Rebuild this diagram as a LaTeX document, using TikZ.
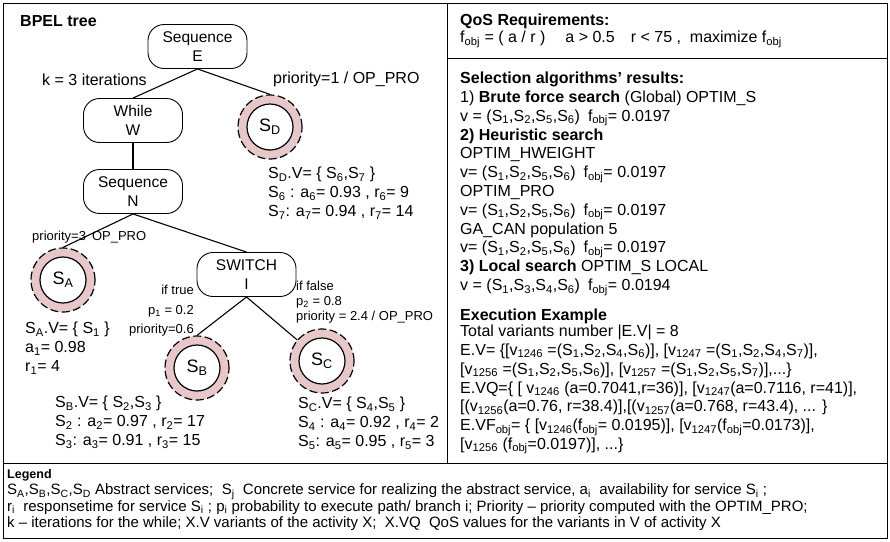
\documentclass[tikz,border=0pt]{standalone}
\usepackage{fontspec}
\setmainfont{Liberation Sans}
\usetikzlibrary{positioning}
\definecolor{ringpink}{RGB}{231,199,199}
\newcommand{\sbs}[1]{\textsubscript{#1}}

\begin{document}
\begin{tikzpicture}[x=1pt,y=-1pt,
  txt/.style={inner sep=0pt,align=left,font=\fontsize{16}{19}\selectfont},
  note/.style={inner sep=0pt,font=\fontsize{13}{19.5}\selectfont},
  activity/.style={draw,line width=0.9pt,rounded corners=16pt,minimum width=99pt,minimum height=44pt,inner sep=0pt,align=center,font=\fontsize{15.5}{19}\selectfont},
  service/.style={circle,draw,line width=1.2pt,dash pattern=on 8pt off 3.5pt,fill=ringpink,minimum size=64pt,inner sep=0pt,font=\fontsize{18}{18}\selectfont,
    path picture={\draw[solid,line width=1.2pt,fill=white] (path picture bounding box.center) circle (23pt);}},
  link/.style={line width=1.1pt}]

\useasboundingbox (0,0) rectangle (890,541);
% frames
\draw[line width=0.9pt] (3,3) rectangle (887,538);
\draw[line width=0.9pt] (447,3) -- (447,463) (3,463) -- (887,463) (447,58) -- (887,58);

% BPEL tree
\node[anchor=west,inner sep=0pt,font=\bfseries\fontsize{16}{16}\selectfont] (bpel) at (20,21) {BPEL tree};
\node[activity] (E) at (197.5,46.5) {Sequence\\E};
\node[activity] (W) at (133,120.5) {While\\W};
\node[service] (SD) at (270,127) {S\sbs{D}};
\node[activity] (N) at (133,191.5) {Sequence\\N};
\node[service] (SA) at (63,280) {S\sbs{A}};
\node[activity] (I) at (246.5,274.5) {SWITCH\\I};
\node[service] (SB) at (197,368) {S\sbs{B}};
\node[service] (SC) at (322,361) {S\sbs{C}};

\path[link] (E.south) edge (W.north) edge (SD.north)
            (W.south) edge (N.north)
            (N.south) edge (SA.north) edge (I.north)
            (I.south) edge (SB.north) edge (SC);

\node[txt,anchor=west] (iter) at (42,80) {k = 3 iterations};
\node[txt,anchor=west] (prioD) at (273,79) {priority=1 / OP\_PRO};
\node[txt,anchor=north west] (varD) at (268,167) {S\sbs{D}.V= \{ S\sbs{6},S\sbs{7} \}\\
  S\sbs{6} : a\sbs{6}= 0.93 , r\sbs{6}= 9\\
  S\sbs{7}: a\sbs{7}= 0.94 , r\sbs{7}= 14};
\node[note,anchor=west] (prioA) at (32,237) {priority=3\hspace{6pt}OP\_PRO};
\node[note,anchor=north east,align=right] (condT) at (194,285) {if true\\p\sbs{1} = 0.2\\priority=0.6};
\node[note,anchor=north west,align=left,font=\fontsize{13}{15}\selectfont] (condF) at (296,281) {if false\\p\sbs{2} = 0.8\\priority = 2.4 / OP\_PRO};
\node[txt,anchor=north west] (varA) at (25,322) {S\sbs{A}.V= \{ S\sbs{1} \}\\a\sbs{1}= 0.98\\r\sbs{1}= 4};
\node[txt,anchor=north west] (varB) at (55,396) {S\sbs{B}.V= \{ S\sbs{2},S\sbs{3} \}\\
  S\sbs{2} : a\sbs{2}= 0.97 , r\sbs{2}= 17\\
  S\sbs{3}: a\sbs{3}= 0.91 , r\sbs{3}= 15};
\node[txt,anchor=north west] (varC) at (298,397) {S\sbs{C}.V= \{ S\sbs{4},S\sbs{5} \}\\
  S\sbs{4} : a\sbs{4}= 0.92 , r\sbs{4}= 2\\
  S\sbs{5}: a\sbs{5}= 0.95 , r\sbs{5}= 3};

% QoS panel
\node[txt,anchor=north west,font=\fontsize{16}{17}\selectfont] (qos) at (460,14) {\textbf{QoS Requirements:}\\
  f\sbs{obj} = ( a / r )\hspace{20pt}a > 0.5\hspace{16pt}r < 75 ,\ \ maximize f\sbs{obj}};
\node[txt,anchor=north west,font=\fontsize{16}{18.8}\selectfont] (algo) at (460,72) {\textbf{Selection algorithms' results:}\\
  1) \textbf{Brute force search} (Global) OPTIM\_S\\
  v = (S\sbs{1},S\sbs{2},S\sbs{5},S\sbs{6})\hspace{8pt}f\sbs{obj}= 0.0197\\
  \textbf{2) Heuristic search}\\
  OPTIM\_HWEIGHT\\
  v= (S\sbs{1},S\sbs{2},S\sbs{5},S\sbs{6})\hspace{8pt}f\sbs{obj}= 0.0197\\
  OPTIM\_PRO\\
  v= (S\sbs{1},S\sbs{2},S\sbs{5},S\sbs{6})\hspace{8pt}f\sbs{obj}= 0.0197\\
  GA\_CAN population 5\\
  v= (S\sbs{1},S\sbs{2},S\sbs{5},S\sbs{6})\hspace{8pt}f\sbs{obj}= 0.0197\\
  \textbf{3) Local search} OPTIM\_S LOCAL\\
  v = (S\sbs{1},S\sbs{3},S\sbs{4},S\sbs{6})\hspace{8pt}f\sbs{obj}= 0.0194};
\node[txt,anchor=north west,font=\fontsize{16}{18.8}\selectfont] (exec) at (460,309) {\textbf{Execution Example}\\[-3pt]
  Total variants number |E.V| = 8\\
  E.V= \{[v\sbs{1246} =(S\sbs{1},S\sbs{2},S\sbs{4},S\sbs{6})], [v\sbs{1247} =(S\sbs{1},S\sbs{2},S\sbs{4},S\sbs{7})],\\
  {}[v\sbs{1256} =(S\sbs{1},S\sbs{2},S\sbs{5},S\sbs{6})], [v\sbs{1257} =(S\sbs{1},S\sbs{2},S\sbs{5},S\sbs{7})],...\}\\
  E.VQ=\{ [ v\sbs{1246} (a=0.7041,r=36)], [v\sbs{1247}(a=0.7116, r=41)],\\
  {}[(v\sbs{1256}(a=0.76, r=38.4)],[(v\sbs{1257}(a=0.768, r=43.4), ... \}\\
  E.VF\sbs{obj}= \{ [v\sbs{1246}(f\sbs{obj}= 0.0195)], [v\sbs{1247}(f\sbs{obj}=0.0173)],\\
  {}[v\sbs{1256} (f\sbs{obj}=0.0197)], ...\}};

% legend
\node[anchor=north west,inner sep=0pt,align=left,font={\fontsize{15}{16.5}\selectfont\lineskiplimit=-10pt}] (legend) at (7,469) {{\fontsize{12.5}{12.5}\selectfont\bfseries Legend}\\[0pt]
  S\sbs{A},S\sbs{B},S\sbs{C},S\sbs{D} Abstract services;\ \ S\sbs{j}\ \ Concrete service for realizing the abstract service, a\sbs{i}\ \ availability for service S\sbs{i} ;\\
  r\sbs{i}\ \ responsetime for service S\sbs{i} ; p\sbs{i} probability to execute path/ branch i; Priority -- priority computed with the OPTIM\_PRO;\\
  k -- iterations for the while; X.V variants of the activity X;\ \ X.VQ\ \ QoS values for the variants in V of activity X};
\end{tikzpicture}
\end{document}
